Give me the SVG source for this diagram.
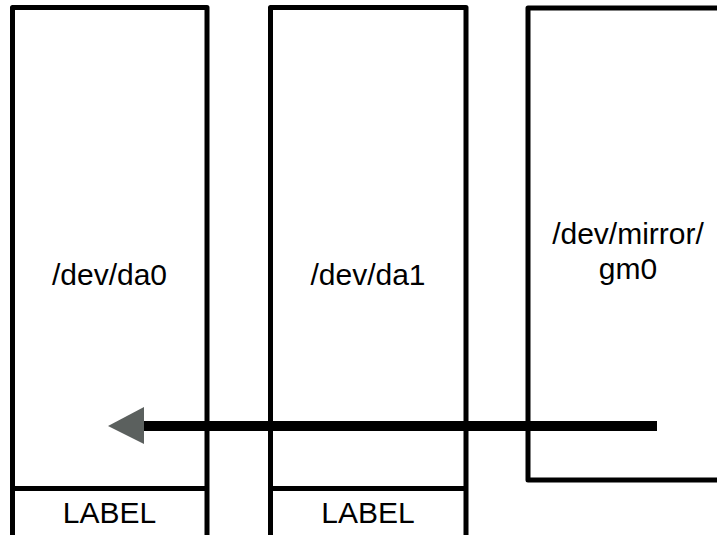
<svg xmlns="http://www.w3.org/2000/svg" width="717" height="535" viewBox="0 0 717 535">
<style>
.box{fill:#fff;stroke:#000;stroke-width:5;stroke-linejoin:round}
.sep{stroke:#000;stroke-width:5}
.t{font-family:"Liberation Sans",Arial,Helvetica,sans-serif;font-size:30px;fill:#000;text-anchor:middle}
</style>
<rect width="717" height="535" fill="#fff"/>
<g id="da0">
<rect class="box" x="12.5" y="7.5" width="194.5" height="540"/>
<line class="sep" x1="12.5" y1="488.5" x2="207" y2="488.5"/>
<text class="t" x="109.5" y="285">/dev/da0</text>
<text class="t" x="109.5" y="523">LABEL</text>
</g>
<g id="da1">
<rect class="box" x="270.5" y="7.5" width="195.5" height="540"/>
<line class="sep" x1="270.5" y1="488.5" x2="466" y2="488.5"/>
<text class="t" x="368" y="285">/dev/da1</text>
<text class="t" x="368" y="523">LABEL</text>
</g>
<g id="gm0">
<rect class="box" x="528" y="8" width="200" height="472"/>
<text class="t" x="628" y="243.5">/dev/mirror/</text>
<text class="t" x="628" y="278.5">gm0</text>
</g>
<g id="connectors">
<line x1="657" y1="426" x2="143" y2="426" stroke="#000" stroke-width="10"/>
<polygon points="108,426 144,407 144,444" fill="#5b605e"/>
</g>
</svg>
